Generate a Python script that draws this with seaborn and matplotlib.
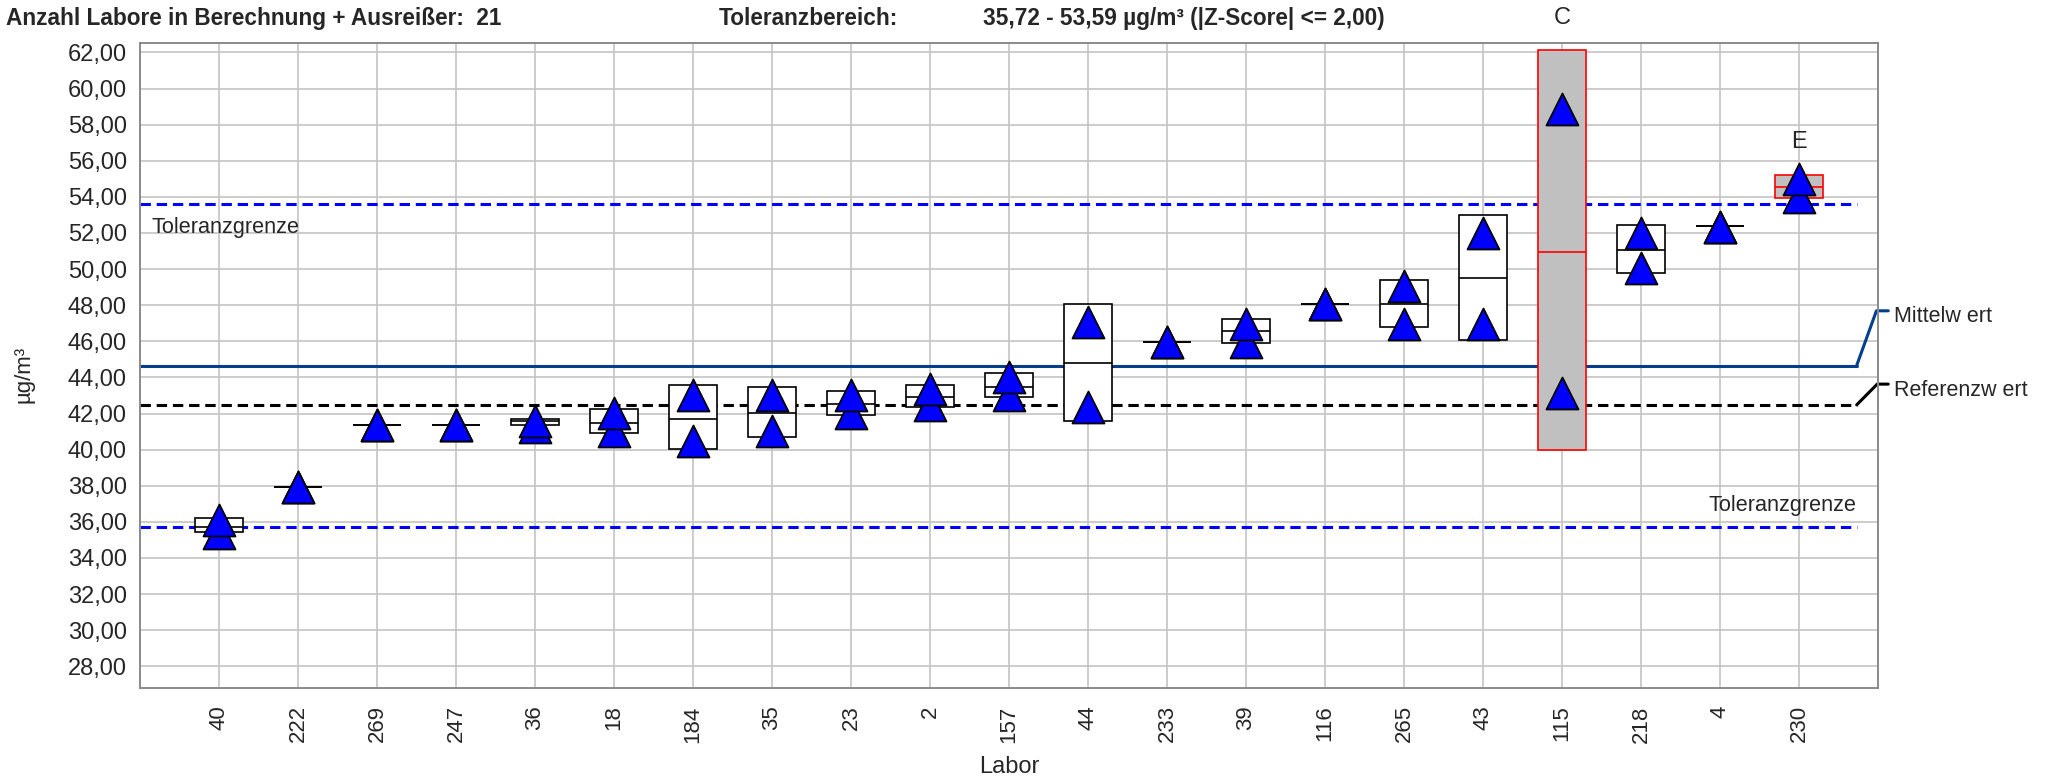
import matplotlib
matplotlib.use("Agg")
import matplotlib.pyplot as plt
from matplotlib.transforms import blended_transform_factory
from matplotlib.ticker import FuncFormatter
import numpy as np
import pandas as pd
import seaborn as sns

# Laborcodes in Reihenfolge der Darstellung
labore = ["40", "222", "269", "247", "36", "18", "184", "35", "23", "2", "157",
          "44", "233", "39", "116", "265", "43", "115", "218", "4", "230"]
# Einzelwerte je Labor (µg/m³)
wert_hoch = [36.08, 37.95, 41.37, 41.37, 41.57, 42.03, 43.01, 43.01, 43.05, 43.36, 44.03,
             47.08, 45.99, 46.97, 48.07, 49.05, 51.99, 58.84, 52.02, 52.33, 54.98]
wert_tief = [35.41, 37.95, 41.37, 41.37, 41.24, 41.02, 40.48, 41.04, 42.04, 42.47, 43.03,
             42.36, 45.99, 45.99, 48.07, 46.97, 46.97, 43.14, 50.05, 52.33, 54.00]
# Streubereich und Labormittel
box_oben = [36.20, 37.95, 41.38, 41.38, 41.71, 42.25, 43.56, 43.45, 43.25, 43.58, 44.24,
            48.06, 45.99, 47.22, 48.07, 49.40, 53.01, 62.11, 52.47, 52.37, 55.23]
box_unten = [35.42, 37.95, 41.38, 41.38, 41.38, 40.91, 40.05, 40.69, 41.92, 42.35, 42.92,
             41.59, 45.99, 45.88, 48.07, 46.78, 46.10, 39.97, 49.76, 52.37, 53.92]
box_mitte = [35.74, 37.95, 41.38, 41.38, 41.56, 41.47, 41.71, 42.04, 42.51, 42.93, 43.45,
             44.81, 45.99, 46.56, 48.07, 48.06, 49.50, 50.93, 51.08, 52.37, 54.57]
# Bewertungskennung (C/E) je Labor
kennung = [""] * 17 + ["C", "", "", "E"]

mittelwert = 44.66
referenzwert = 42.48
toleranz_unten = 35.72
toleranz_oben = 53.59
anzahl_labore = 21
y_ticks = list(range(28, 63, 2))

sns.set_style("white")
plt.rcParams["font.family"] = ["Liberation Sans", "DejaVu Sans"]

W, H = 2056, 783
fig = plt.figure(figsize=(W / 100, H / 100), dpi=100)
ax = fig.add_axes([140 / W, 1 - 688 / H, 1738 / W, (688 - 42.5) / H])

n = len(labore)
pos = np.arange(n)
ax.set_xlim(-1, n)
ax.set_ylim(26.8, 62.55)

gray_spine = "#8a8a8a"
ax.set_yticks(y_ticks)
ax.set_xticks(pos)
ax.set_xticklabels(labore, rotation=90, fontsize=16)
ax.yaxis.set_major_formatter(FuncFormatter(lambda v, _: f"{v:.2f}".replace(".", ",")))
ax.tick_params(axis="y", labelsize=17, length=6.5, width=1.1, color=gray_spine, pad=3)
ax.tick_params(axis="x", length=4.5, width=1.1, color=gray_spine, pad=8)
ax.grid(True, color="#c4c4c4", lw=1.2)
ax.set_axisbelow(True)
for sp in ax.spines.values():
    sp.set_color(gray_spine)
    sp.set_linewidth(1.4)

# Bezugslinien
x_end = 20.73
lw_ref = 2.2
strich = (0, (3.4, 1.9))
ax.plot([-1, x_end], [toleranz_oben] * 2, color="#0000ff", lw=lw_ref, ls=strich, zorder=2)
ax.plot([-1, x_end], [toleranz_unten] * 2, color="#0000ff", lw=lw_ref, ls=strich, zorder=2)
ax.plot([-1, x_end], [mittelwert] * 2, color="#003f8e", lw=lw_ref, zorder=2)
ax.plot([-1, x_end], [referenzwert] * 2, color="black", lw=lw_ref, ls=strich, zorder=2)

# Beschriftung der Bezugslinien rechts neben dem Diagramm
ax.plot([x_end, 20.98, 21.13], [mittelwert, 47.69, 47.69], color="#003f8e", lw=lw_ref,
        clip_on=False, zorder=2)
ax.plot([x_end, 20.99, 21.13], [referenzwert, 43.63, 43.63], color="black", lw=lw_ref,
        clip_on=False, zorder=2)
ax.text(21.2, 47.4, "Mittelw ert", fontsize=15.5, va="center", ha="left")
ax.text(21.2, 43.3, "Referenzw ert", fontsize=15.5, va="center", ha="left")
ax.text(-0.86, 52.0, "Toleranzgrenze", fontsize=15.6, va="baseline", ha="left")
ax.text(x_end, 36.6, "Toleranzgrenze", fontsize=15.6, va="baseline", ha="right")

# Streubereiche je Labor
breite = 0.607
oben = np.array(box_oben)
unten = np.array(box_unten)
face = ["#c0c0c0" if k else "white" for k in kennung]
edge = ["#ff0000" if k else "black" for k in kennung]
ax.bar(pos, oben - unten, bottom=unten, width=breite, color=face, edgecolor=edge,
       linewidth=1.2, zorder=3)
ax.hlines(box_mitte, pos - breite / 2, pos + breite / 2, colors=edge, lw=1.2, zorder=4)

# Einzelwerte als Dreiecke (obere zuletzt, damit sie oben liegen)
df = pd.DataFrame({
    "x": np.concatenate([pos, pos]),
    "wert": wert_tief + wert_hoch,
})
sns.scatterplot(data=df, x="x", y="wert", marker="^", s=23 ** 2, color="#0000ff",
                edgecolor="black", linewidth=1.3, zorder=5, ax=ax, legend=False)
ax.set_xlabel("")
ax.set_ylabel("")

# Kennungen über den Laboren
kopf = blended_transform_factory(ax.transData, fig.transFigure)
for i, k in enumerate(kennung):
    if not k:
        continue
    y = box_oben[i] + 1.8
    if y > ax.get_ylim()[1]:
        ax.text(i, 1 - 18.4 / H, k, transform=kopf, fontsize=17, ha="center", va="center")
    else:
        ax.text(i, y, k, fontsize=17, ha="center", va="center")

# Kopfzeile
fig.text(6.5 / W, 1 - 18.4 / H, f"Anzahl Labore in Berechnung + Ausreißer:  {anzahl_labore}",
         fontsize=16.3, fontweight="bold", va="center", ha="left")
fig.text(718.5 / W, 1 - 18.4 / H, "Toleranzbereich:", fontsize=16.3, fontweight="bold",
         va="center", ha="left")
fig.text(983 / W, 1 - 18.4 / H,
         f"{toleranz_unten:.2f} - {toleranz_oben:.2f} µg/m³ (|Z-Score| <= 2,00)".replace(".", ","),
         fontsize=16.3, fontweight="bold", va="center", ha="left")

# Achsentitel
fig.text(1009.6 / W, 1 - 767 / H, "Labor", fontsize=17, ha="center", va="center")
fig.text(24 / W, 1 - 374 / H, "µg/m³", fontsize=16, rotation=90, ha="center", va="center")

fig.savefig("out.png", dpi=100)
